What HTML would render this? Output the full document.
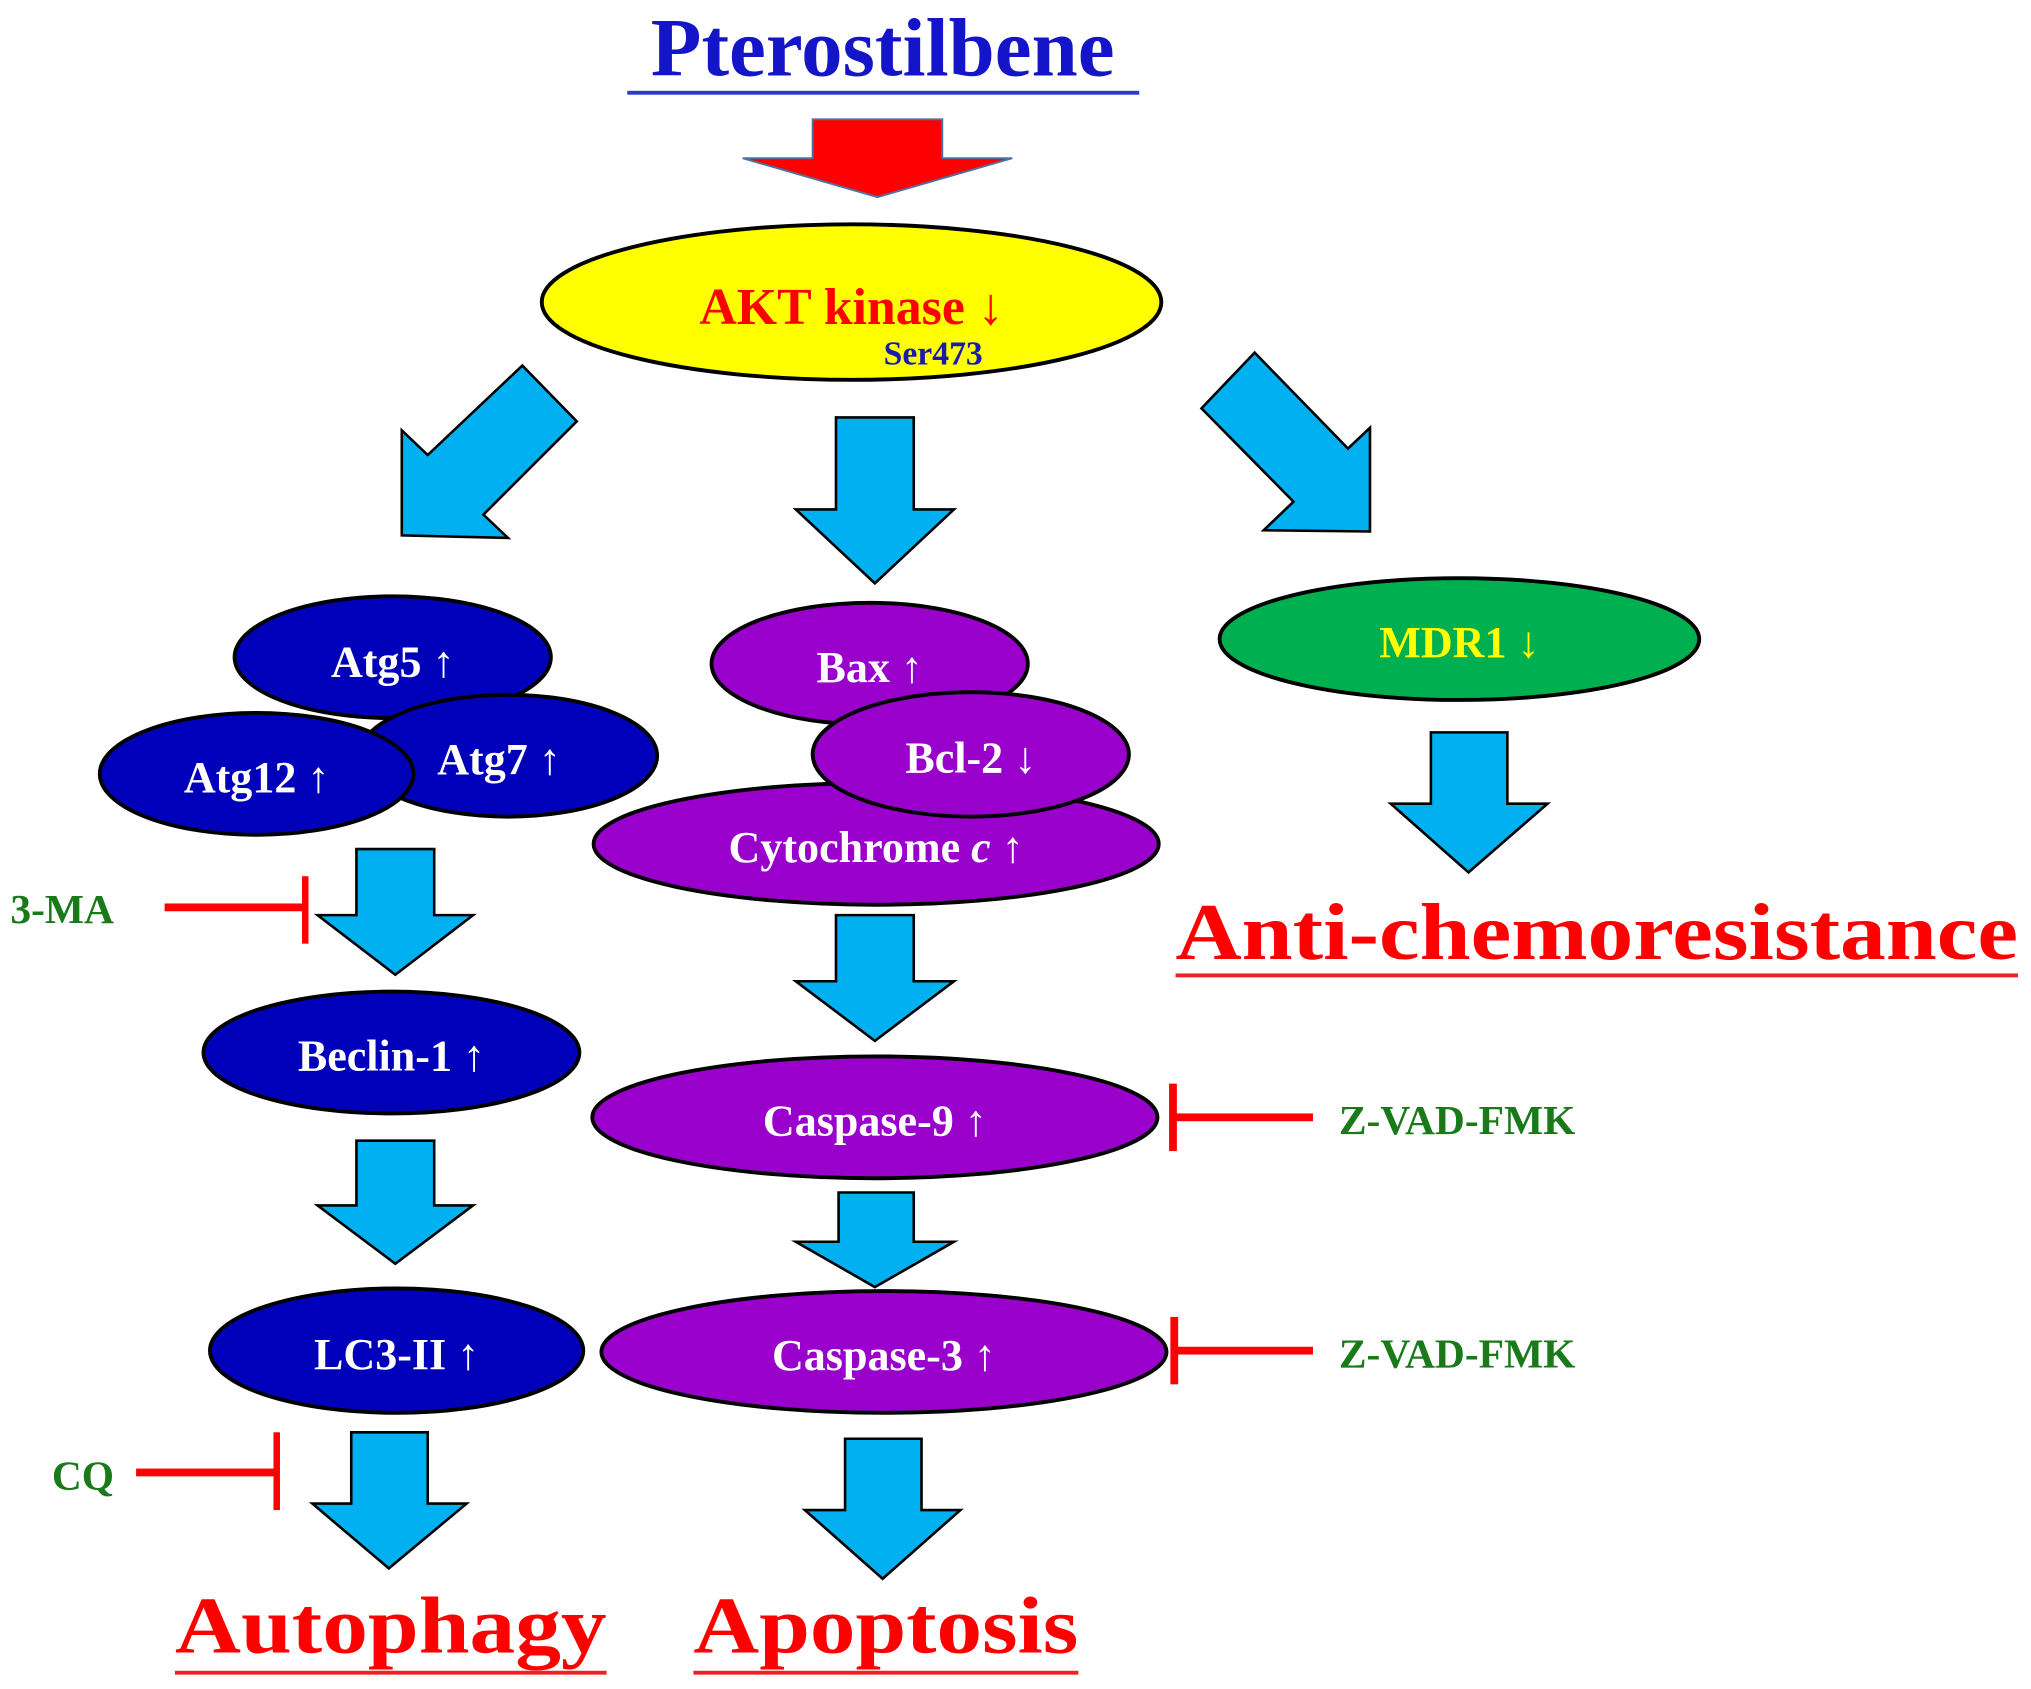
<!DOCTYPE html>
<html><head><meta charset="utf-8"><style>
html,body{margin:0;padding:0;background:#fff;}
svg{display:block;}
text{font-family:"Liberation Serif",serif;font-weight:bold;}
</style></head><body>
<svg width="2031" height="1689" viewBox="0 0 1567 1303" xmlns="http://www.w3.org/2000/svg">
<rect width="1567" height="1303" fill="#fff"/>
<!-- Title -->
<text x="681" y="58" font-size="64" fill="#1414c8" text-anchor="middle">Pterostilbene</text>
<rect x="484" y="70" width="395" height="3" fill="#2a3ad0"/>
<!-- red arrow -->
<polygon points="627,92 727,92 727,122 781,122 677,152 573,122 627,122" fill="#ff0000" stroke="#5070a0" stroke-width="1.5"/>
<!-- AKT -->
<ellipse cx="657" cy="233" rx="239" ry="60" fill="#ffff00" stroke="#000" stroke-width="3"/>
<text x="657" y="250" font-size="40" fill="#ff0000" text-anchor="middle">AKT kinase ↓</text>
<text x="720" y="281" font-size="26" fill="#1a1ab0" text-anchor="middle">Ser473</text>
<g fill="#00b0f0" stroke="#000" stroke-width="2" stroke-linejoin="miter">
<!-- diagonal arrows -->
<polygon points="403,282 445,325 373,397 392,415 310,413 310,332 330,351"/>
<polygon points="968,272 927,315 998,387 975,409 1057,410 1057,330 1040,346"/>
<!-- center arrows -->
<polygon points="645,322 705,322 705,393 736,393 675,450 614,393 645,393"/>
<polygon points="1104,565 1163,565 1163,620 1194,620 1133,673 1073,620 1104,620"/>
<polygon points="275,655 335,655 335,706 365,706 305,752 245,706 275,706"/>
<polygon points="275,880 335,880 335,930 365,930 305,975 245,930 275,930"/>
<polygon points="271,1105 330,1105 330,1160 360,1160 300,1210 241,1160 271,1160"/>
<polygon points="645,706 705,706 705,757 736,757 675,803 614,757 645,757"/>
<polygon points="647,920 705,920 705,958 736,958 675,993 614,958 647,958"/>
<polygon points="652,1110 711,1110 711,1165 741,1165 681,1218 621,1165 652,1165"/>
</g>
<!-- Blue ellipses -->
<g fill="#0000bb" stroke="#000" stroke-width="3">
<ellipse cx="303" cy="507" rx="122" ry="47"/>
<ellipse cx="392" cy="583" rx="115" ry="47"/>
<ellipse cx="198" cy="597" rx="121" ry="47"/>
<ellipse cx="302" cy="812" rx="145" ry="47"/>
<ellipse cx="306" cy="1042" rx="144" ry="48"/>
</g>
<!-- Purple -->
<g fill="#9900cc" stroke="#000" stroke-width="3">
<ellipse cx="671" cy="512" rx="122" ry="47"/>
<ellipse cx="676" cy="651" rx="218" ry="47"/>
<ellipse cx="749" cy="582" rx="122" ry="48"/>
<ellipse cx="675" cy="862" rx="218" ry="47"/>
<ellipse cx="682" cy="1043" rx="218" ry="47"/>
</g>
<ellipse cx="1126" cy="493" rx="185" ry="47" fill="#00b050" stroke="#000" stroke-width="3"/>
<g font-size="34" fill="#fff" text-anchor="middle">
<text x="303" y="522">Atg5 ↑</text>
<text x="385" y="597">Atg7 ↑</text>
<text x="198" y="611">Atg12 ↑</text>
<text x="302" y="826">Beclin-1 ↑</text>
<text x="306" y="1056">LC3-II ↑</text>
<text x="671" y="526">Bax ↑</text>
<text x="749" y="596">Bcl-2 ↓</text>
<text x="676" y="665">Cytochrome <tspan font-style="italic">c</tspan> ↑</text>
<text x="675" y="876">Caspase-9 ↑</text>
<text x="682" y="1057">Caspase-3 ↑</text>
<text x="1126" y="507" fill="#ffff00">MDR1 ↓</text>
</g>
<!-- inhibitors -->
<g fill="#ff0000">
<rect x="127" y="697" width="108" height="6"/><rect x="233" y="676" width="5" height="52"/>
<rect x="105" y="1133" width="108" height="6"/><rect x="211" y="1105" width="5" height="60"/>
<rect x="905" y="859" width="108" height="6"/><rect x="902" y="836" width="6" height="52"/>
<rect x="905" y="1039" width="108" height="6"/><rect x="903" y="1016" width="6" height="52"/>
</g>
<g font-size="32" fill="#1a7a1a">
<text x="8" y="712">3-MA</text>
<text x="40" y="1149">CQ</text>
<text x="1033" y="875">Z-VAD-FMK</text>
<text x="1033" y="1055">Z-VAD-FMK</text>
</g>
<!-- outcomes -->
<g font-size="62" fill="#ff0000">
<text x="907" y="740" textLength="650" lengthAdjust="spacingAndGlyphs">Anti-chemoresistance</text>
<text x="135" y="1275" textLength="333" lengthAdjust="spacingAndGlyphs">Autophagy</text>
<text x="535" y="1275" textLength="297" lengthAdjust="spacingAndGlyphs">Apoptosis</text>
</g>
<g fill="#ee2222">
<rect x="907" y="751" width="650" height="3"/>
<rect x="135" y="1289" width="333" height="3"/>
<rect x="535" y="1289" width="297" height="3"/>
</g>
</svg>
</body></html>
